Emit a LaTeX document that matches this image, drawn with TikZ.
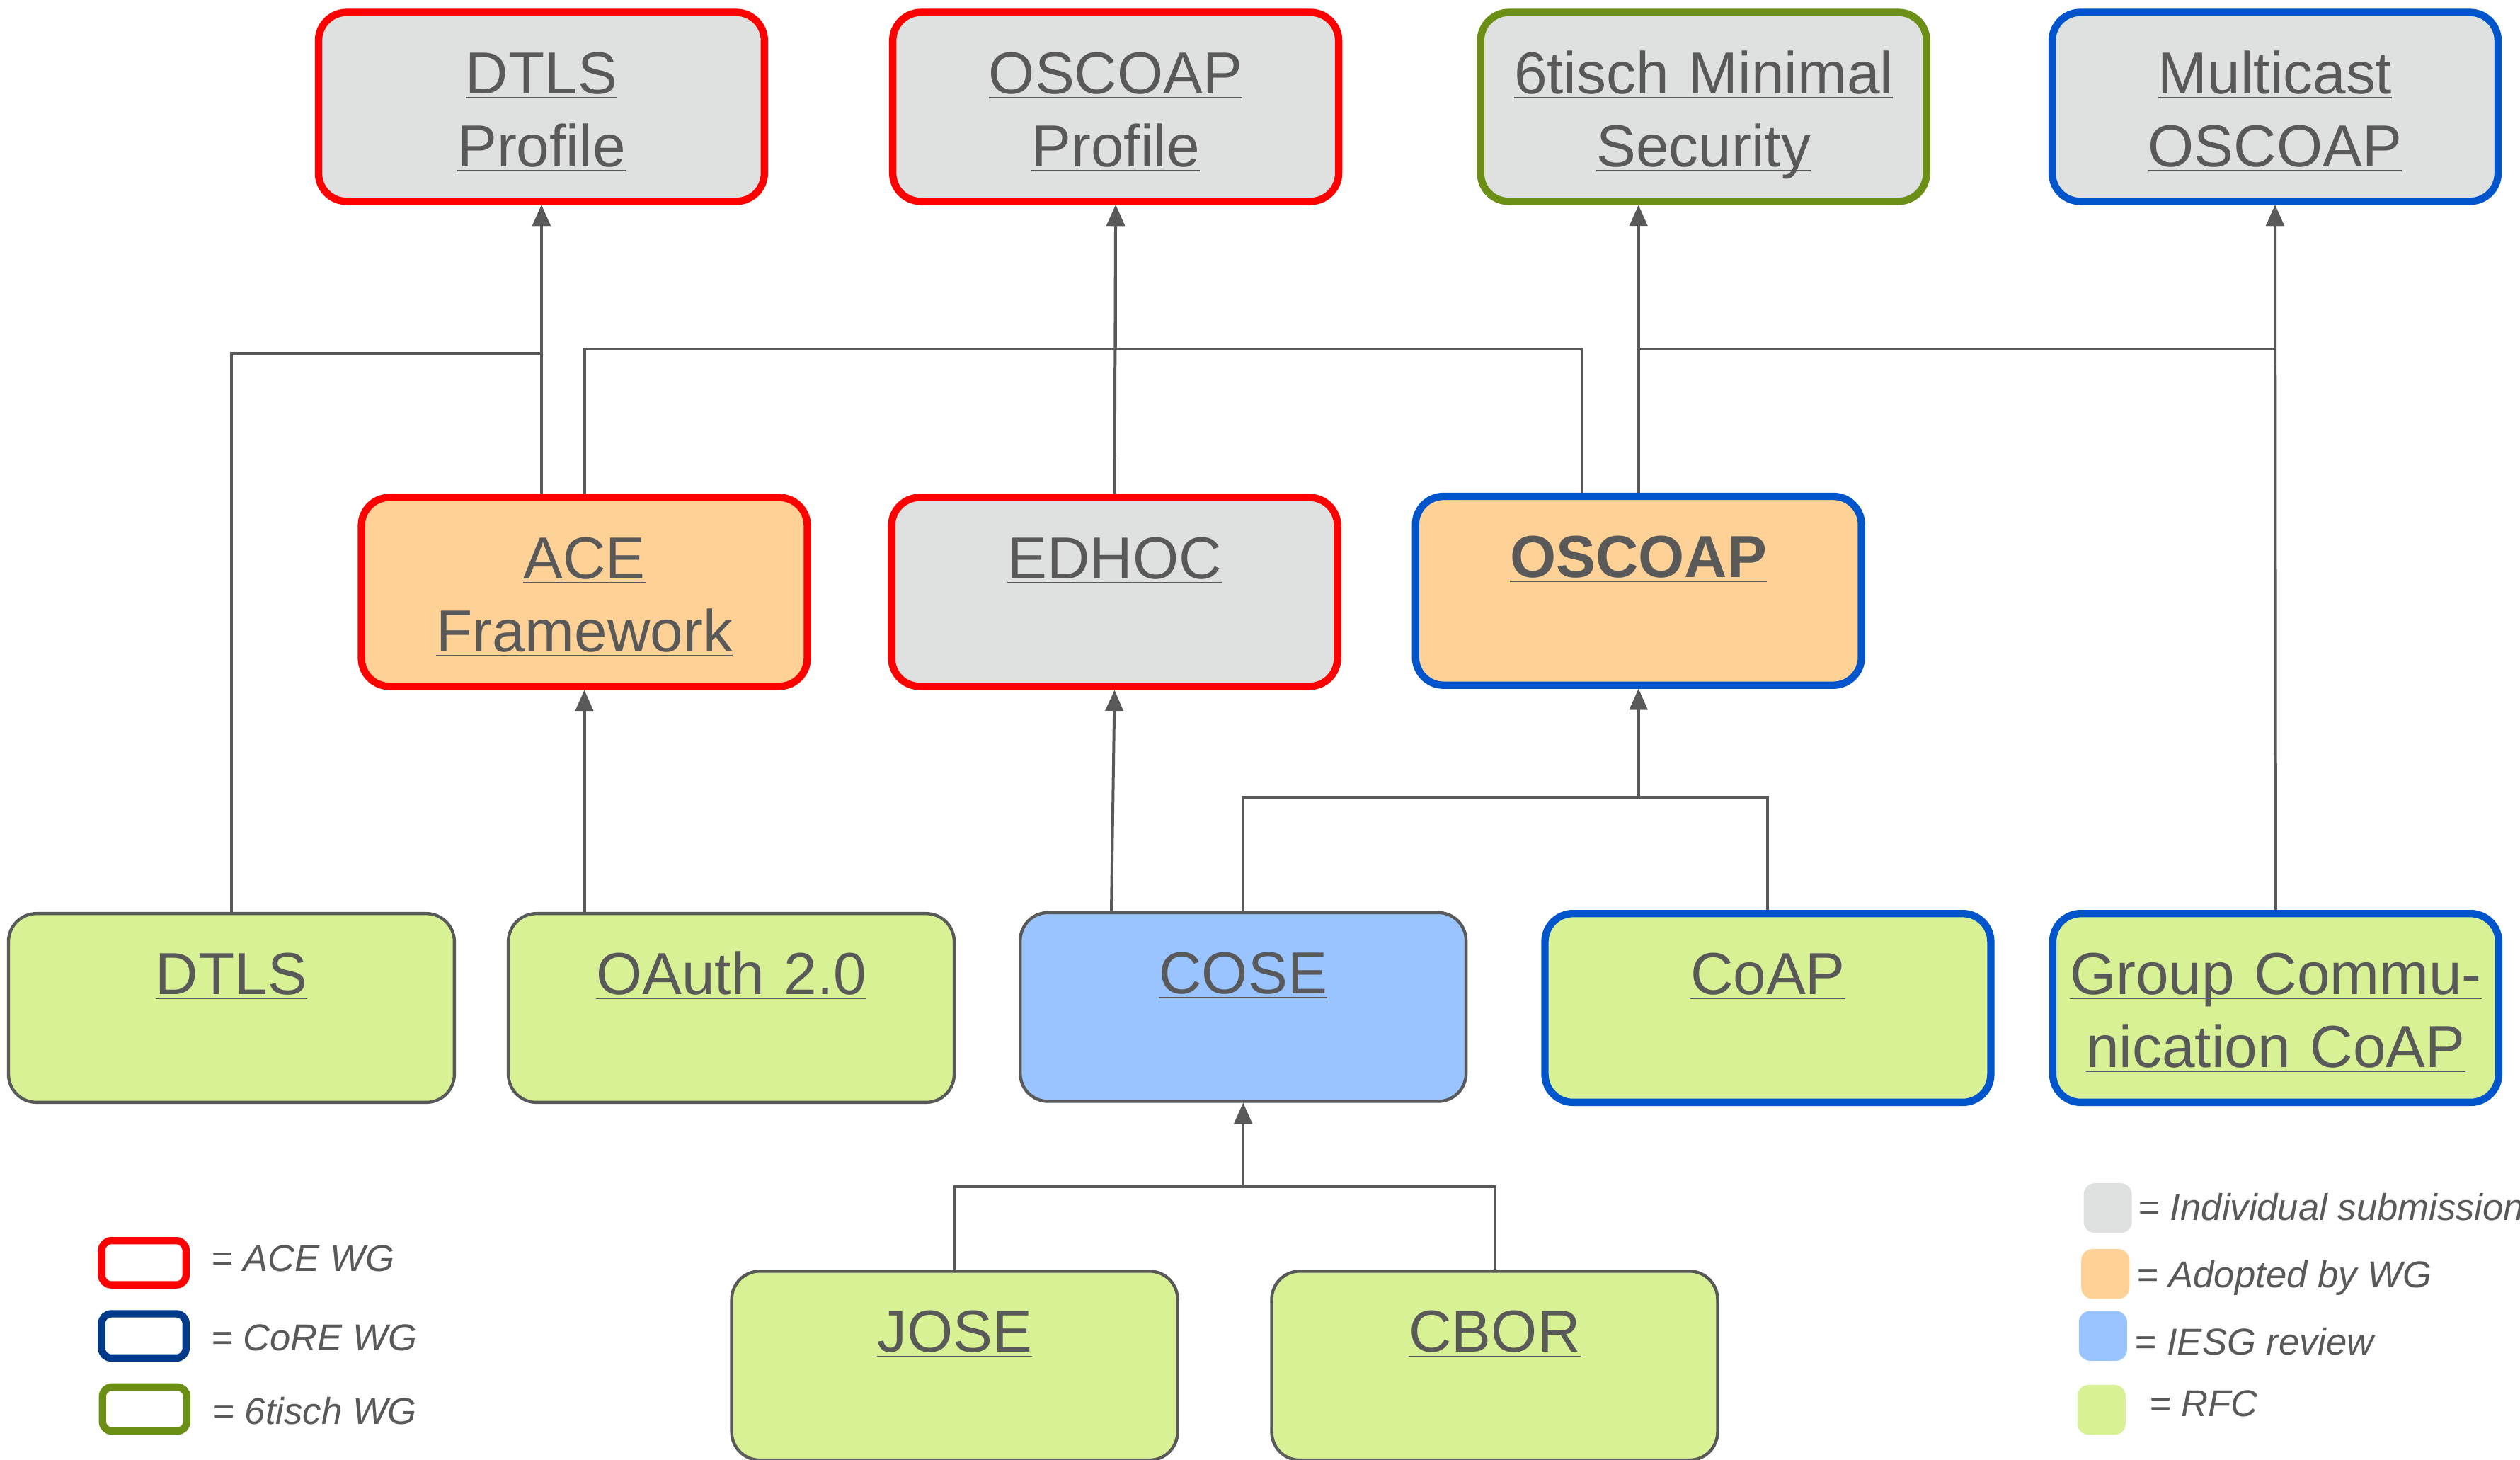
\documentclass[tikz,border=0pt]{standalone}
\usepackage{fontspec}
\setmainfont{Liberation Sans}
\usetikzlibrary{arrows.meta,calc}

\definecolor{txtgray}{HTML}{595959}
\definecolor{acered}{HTML}{FF0000}
\definecolor{coreblue}{HTML}{0055CC}
\definecolor{corenavy}{HTML}{003A8A}
\definecolor{tischgreen}{HTML}{6B8E15}
\definecolor{indgray}{HTML}{DFE1E0}
\definecolor{adoptorange}{HTML}{FED296}
\definecolor{iesgblue}{HTML}{9AC4FF}
\definecolor{rfcgreen}{HTML}{D8F195}

\newcommand{\lnk}[1]{\underline{\smash{#1}}}

\begin{document}
\begin{tikzpicture}[x=0.02cm,y=-0.02cm,
    box/.style={rounded corners=0.35cm, inner sep=0pt, text width=5.55cm, align=center,
      text height=1.01cm, text depth=1.34cm, text=txtgray,
      font=\fontsize{21}{25.8}\selectfont},
    indiv/.style={fill=indgray},
    adopted/.style={fill=adoptorange},
    iesg/.style={fill=iesgblue},
    rfc/.style={fill=rfcgreen},
    ace/.style={draw=acered, line width=2.6pt},
    core/.style={draw=coreblue, line width=2.6pt},
    tisch/.style={draw=tischgreen, line width=2.6pt},
    plain/.style={draw=txtgray, line width=1.1pt},
    dep/.style={draw=txtgray, line width=1pt, -{Triangle[width=0.22cm,length=0.26cm]}},
    swatch/.style={minimum width=1.05cm, minimum height=0.55cm, inner sep=0pt,
      line width=2.6pt, rounded corners=0.12cm, fill=white},
    chip/.style={minimum width=0.6cm, minimum height=0.62cm, inner sep=0pt,
      rounded corners=0.14cm},
    legend/.style={anchor=base west, inner sep=0pt, text=txtgray,
      font=\fontsize{13.2}{16}\selectfont\itshape}]

        \useasboundingbox (0,0) rectangle (1568,908);

        \node[box,indiv,ace]   (dtlsp)    at (336.9,66.5)  {\lnk{DTLS}\\\lnk{Profile}};
        \node[box,indiv,ace]   (oscoapp)  at (694.2,66.5)  {\lnk{OSCOAP}\\\lnk{Profile}};
        \node[box,indiv,tisch] (sixtisch) at (1060,66.5)   {\lnk{6tisch Minimal}\\\lnk{Security}};
        \node[box,indiv,core]  (mcast)    at (1415.6,66.5) {\lnk{Multicast}\\\lnk{OSCOAP}};

        \node[box,adopted,ace]  (ace)    at (363.6,368.2)  {\lnk{ACE}\\\lnk{Framework}};
        \node[box,indiv,ace]    (edhoc)  at (693.5,368.2)  {\lnk{EDHOC}};
        \node[box,adopted,core] (oscoap) at (1019.5,367.5) {\lnk{\bfseries OSCOAP}};

        \node[box,rfc,plain]  (dtls)  at (144,627)     {\lnk{DTLS}};
        \node[box,rfc,plain]  (oauth) at (455,627)     {\lnk{OAuth 2.0}};
        \node[box,iesg,plain] (cose)  at (773.5,626.4) {\lnk{COSE}};
        \node[box,rfc,core]   (coap)  at (1100,627)    {\lnk{CoAP}};
        \node[box,rfc,core]   (group) at (1416,627)    {\lnk{Group Commu-}\\\lnk{nication CoAP}};

        \node[box,rfc,plain] (jose) at (594,849.5) {\lnk{JOSE}};
        \node[box,rfc,plain] (cbor) at (930,849.5) {\lnk{CBOR}};

        \coordinate (busA) at (0,220);
        \coordinate (busB) at (0,217);
        \coordinate (busC) at (0,496);
        \coordinate (busD) at (0,738);

        \begin{scope}[every edge/.style={dep}]
          \path (ace.north -| dtlsp.south)   edge (dtlsp.south);
          \path (edhoc.north)                edge (oscoapp.south);
          \path (oscoap.north)               edge (oscoap.north |- sixtisch.south);
          \path (group.north)                edge (mcast.south);
          \path (oauth.north -| ace.south)   edge (ace.south);
          \path ($(cose.north)+(-82,0)$)     edge (edhoc.south);
        \end{scope}

        \draw[dep] (dtls.north) |- (busA -| dtlsp.south) -- (dtlsp.south);
        \draw[dep] (ace.north) |- (busB -| oscoapp.south) -- (oscoapp.south);
        \draw[dep] ($(oscoap.north)+(-35,0)$) |- (busB -| oscoapp.south) -- (oscoapp.south);
        \draw[dep] (oscoap.north) |- (busB -| mcast.south) -- (mcast.south);
        \draw[dep] (cose.north) |- (busC -| oscoap.south) -- (oscoap.south);
        \draw[dep] (coap.north) |- (busC -| oscoap.south) -- (oscoap.south);
        \draw[dep] (jose.north) |- (busD -| cose.south) -- (cose.south);
        \draw[dep] (cbor.north) |- (busD -| cose.south) -- (cose.south);

        \node[swatch, draw=acered]     (lace)   at (89.5,785.5) {};
        \node[swatch, draw=corenavy]   (lcore)  at (89.5,831)   {};
        \node[swatch, draw=tischgreen] (ltisch) at (90,876.5)   {};
        \node[legend] (tace)   at (131,791) {= ACE WG};
        \node[legend] (tcore)  at (131,840) {= CoRE WG};
        \node[legend] (ttisch) at (132,886) {= 6tisch WG};

        \node[chip, fill=indgray]     (lind)   at (1311.5,751.5) {};
        \node[chip, fill=adoptorange] (ladopt) at (1310,792.5)   {};
        \node[chip, fill=iesgblue]    (liesg)  at (1308.5,831)   {};
        \node[chip, fill=rfcgreen]    (lrfc)   at (1307.6,877)   {};
        \node[legend] (tind)   at (1330,759) {= Individual submission};
        \node[legend] (tadopt) at (1329,801) {= Adopted by WG};
        \node[legend] (tiesg)  at (1328,843) {= IESG review};
        \node[legend] (trfc)   at (1337,881) {= RFC};

      \end{tikzpicture}
\end{document}
